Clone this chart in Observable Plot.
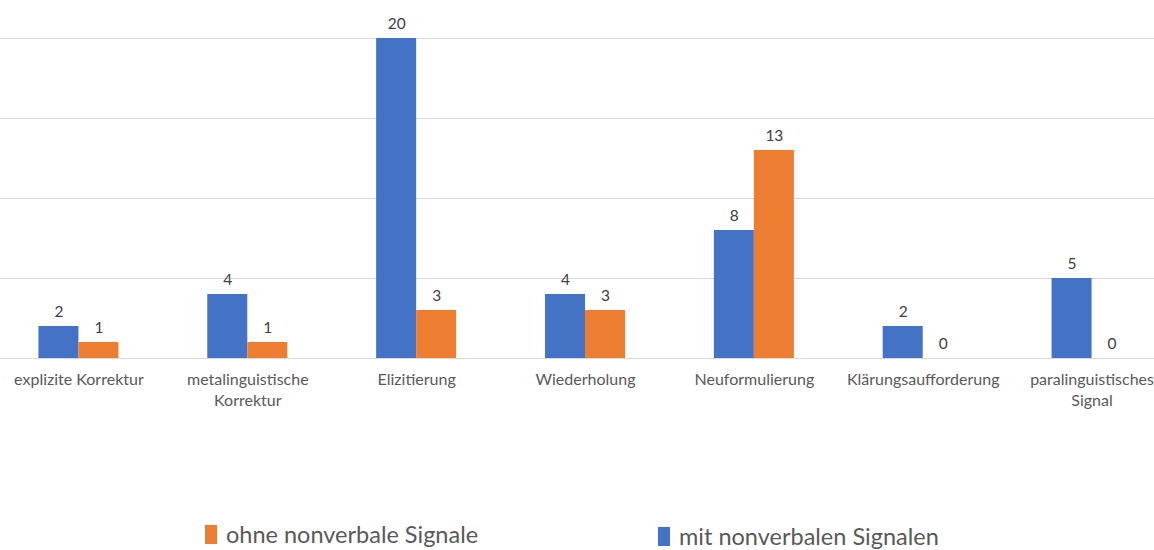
<!DOCTYPE html>
<html>
<head>
<meta charset="utf-8">
<script src="https://cdn.jsdelivr.net/npm/d3@7"></script>
<script src="https://cdn.jsdelivr.net/npm/@observablehq/plot@0.6"></script>
<style>
  html, body { margin: 0; padding: 0; background: #fff; }
  #wrap { position: relative; width: 1154px; height: 550px; font-family: Lato, "Open Sans", sans-serif; overflow: hidden; }
  .leg { position: absolute; font-size: 23.5px; line-height: 26px; color: #595959; white-space: nowrap; display: flex; align-items: center; }
  .sw { display: inline-block; width: 12px; height: 19px; margin-right: 9px; }
</style>
</head>
<body>
<div id="wrap"></div>
<script>
const categories = ["explizite Korrektur", "metalinguistische\nKorrektur", "Elizitierung", "Wiederholung", "Neuformulierung", "Klärungsaufforderung", "paralinguistisches\nSignal"];
const seriesNames = ["mit nonverbalen Signalen", "ohne nonverbale Signale"];
const mitValues = [2, 4, 20, 4, 8, 2, 5];
const ohneValues = [1, 1, 3, 3, 13, 0, 0];
const colors = ["#4472C4", "#ED7D31"];
const gridTicks = [0, 5, 10, 15, 20];

const data = categories.flatMap((c, i) => [
  {cat: c, series: seriesNames[0], value: mitValues[i]},
  {cat: c, series: seriesNames[1], value: ohneValues[i]}
]);

const chart = Plot.plot({
  width: 1154,
  height: 420,
  marginTop: 38,
  marginBottom: 62,
  marginLeft: -6,
  marginRight: -22,
  style: {fontFamily: "Lato, 'Open Sans', sans-serif", background: "transparent"},
  fx: {domain: categories, padding: 0, round: false, label: null, axis: null},
  x: {domain: seriesNames, axis: null, paddingInner: 0, paddingOuter: 1.11, round: false},
  y: {domain: [0, 20], axis: null},
  color: {domain: seriesNames, range: colors},
  marks: [
    Plot.ruleY(gridTicks, {stroke: "#d9d9d9", strokeWidth: 1}),
    Plot.barY(data, {fx: "cat", x: "series", y: "value", fill: "series"}),
    Plot.text(data, {fx: "cat", x: "series", y: "value", text: d => String(d.value), dy: -10, lineAnchor: "bottom", fill: "#404040", fontSize: 15.5}),
    Plot.axisFx({anchor: "bottom", tickSize: 0, tickPadding: 12, fontSize: 16, fill: "#595959", lineAnchor: "top", label: null, lineHeight: 1.3})
  ]
});

const wrap = document.getElementById("wrap");
wrap.appendChild(chart);

const legendPos = [
  {name: seriesNames[1], color: colors[1], left: 205, top: 521},
  {name: seriesNames[0], color: colors[0], left: 658, top: 523}
];
for (const l of legendPos) {
  const d = document.createElement("div");
  d.className = "leg";
  d.style.left = l.left + "px";
  d.style.top = l.top + "px";
  const s = document.createElement("span");
  s.className = "sw";
  s.style.background = l.color;
  d.appendChild(s);
  d.appendChild(document.createTextNode(l.name));
  wrap.appendChild(d);
}
</script>
</body>
</html>
